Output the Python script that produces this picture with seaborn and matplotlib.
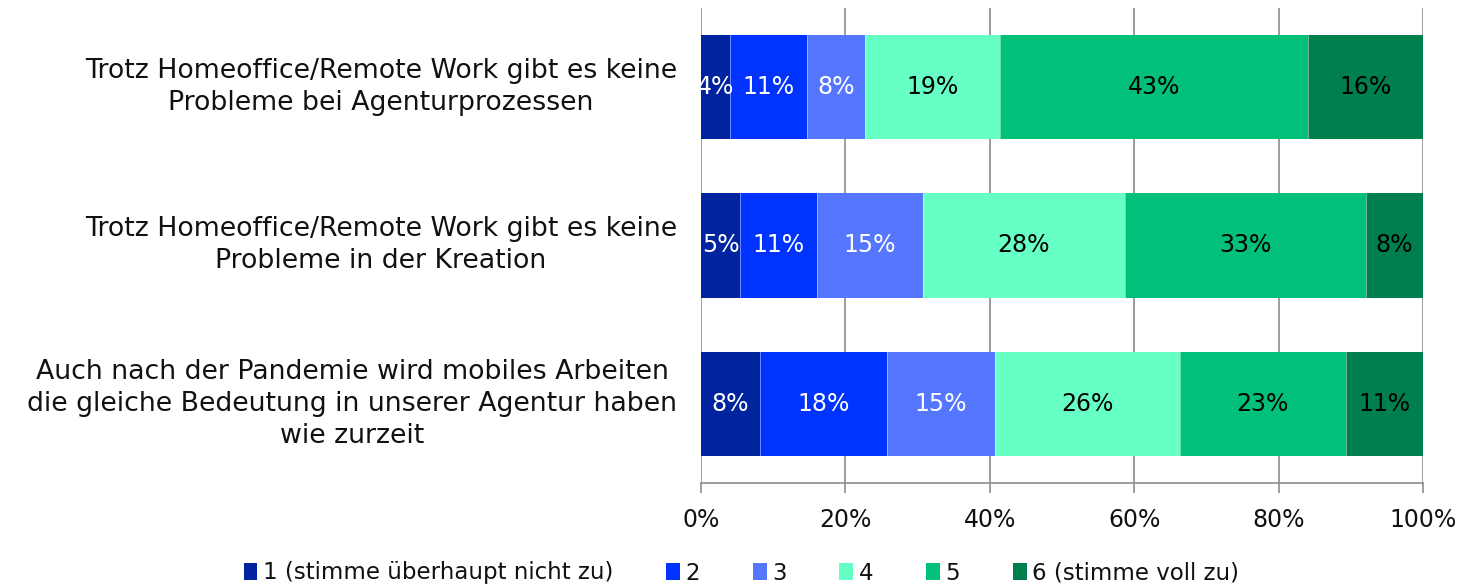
import matplotlib
matplotlib.use("Agg")
import matplotlib.pyplot as plt
import seaborn as sns
import pandas as pd
import numpy as np
from matplotlib.patches import Patch

categories = [
    "Trotz Homeoffice/Remote Work gibt es keine\nProbleme bei Agenturprozessen",
    "Trotz Homeoffice/Remote Work gibt es keine\nProbleme in der Kreation",
    "Auch nach der Pandemie wird mobiles Arbeiten\ndie gleiche Bedeutung in unserer Agentur haben\nwie zurzeit",
]
series_names = ["1 (stimme überhaupt nicht zu)", "2", "3", "4", "5", "6 (stimme voll zu)"]
s1 = [4.0, 5.4, 8.2]
s2 = [10.7, 10.7, 17.5]
s3 = [8.0, 14.6, 15.0]
s4 = [18.7, 28.0, 25.6]
s5 = [42.7, 33.4, 23.0]
s6 = [15.9, 7.9, 10.7]
series = [s1, s2, s3, s4, s5, s6]
colors = ["#0023A0", "#0033FF", "#5577FF", "#66FFC4", "#00C07A", "#007F4E"]
label_colors = ["white", "white", "white", "black", "black", "black"]
xticks = [0, 20, 40, 60, 80, 100]
xticklabels = ["0%", "20%", "40%", "60%", "80%", "100%"]

sns.set_theme(style="white")
plt.rcParams["font.family"] = ["DejaVu Sans"]

fig = plt.figure(figsize=(14.83, 5.88), dpi=100)
ax = fig.add_axes([701/1483, 1 - 483/588, 722/1483, 475/588])

vals = np.array(series)
cum = np.cumsum(vals, axis=0)
# draw cumulative bars largest first so each shorter one covers the left part
for k in range(len(series) - 1, -1, -1):
    df = pd.DataFrame({"cat": categories, "val": cum[k]})
    sns.barplot(data=df, y="cat", x="val", orient="h", color=colors[k],
                width=0.66, ax=ax, saturation=1, edgecolor="none", linewidth=0)

# value labels
for k in range(len(series)):
    for i in range(len(categories)):
        left = cum[k][i] - vals[k][i]
        ax.text(left + vals[k][i] / 2, i, f"{round(vals[k][i]):.0f}%", ha="center", va="center",
                color=label_colors[k], fontsize=17)
# thin separators
for k in range(len(series) - 1):
    for i in range(len(categories)):
        ax.plot([cum[k][i]] * 2, [i - 0.33, i + 0.33], color="white", lw=0.6, alpha=0.5)

ax.set_xlim(0, 100)
ax.set_ylim(2.5, -0.5)
ax.set_xticks(xticks)
ax.set_xticklabels(xticklabels, fontsize=17, color="#111111")
ax.set_xlabel("")
ax.set_ylabel("")
ax.set_yticks(range(len(categories)))
ax.set_yticklabels([])
ax.tick_params(axis="y", length=0)
# category labels: block right-aligned near axis, lines centred
for i, cat in enumerate(categories):
    ax.text(-24 / 722, i, cat, transform=ax.get_yaxis_transform(), ha="right", va="center",
            multialignment="center", fontsize=19.3, color="#111111", linespacing=1.3)
ax.tick_params(axis="x", direction="out", length=7, width=1.2, color="#8c8c8c", pad=11, bottom=True)
ax.xaxis.grid(True, color="#8c8c8c", linewidth=1.2)
ax.yaxis.grid(False)
ax.set_axisbelow(True)
for sp in ["top", "right", "left"]:
    ax.spines[sp].set_visible(False)
ax.spines["bottom"].set_color("#8c8c8c")
ax.spines["bottom"].set_linewidth(1.2)

handles = [Patch(facecolor=c, edgecolor="none") for c in colors]
leg = fig.legend(handles, series_names, loc="center", bbox_to_anchor=(0.5, 1 - 573/588), ncol=6,
                 frameon=False, fontsize=16.5, handlelength=0.6, handleheight=0.8, handletextpad=0.25,
                 columnspacing=2.3)
for t in leg.get_texts():
    t.set_color("#111111")

fig.savefig("out.png", dpi=100)
